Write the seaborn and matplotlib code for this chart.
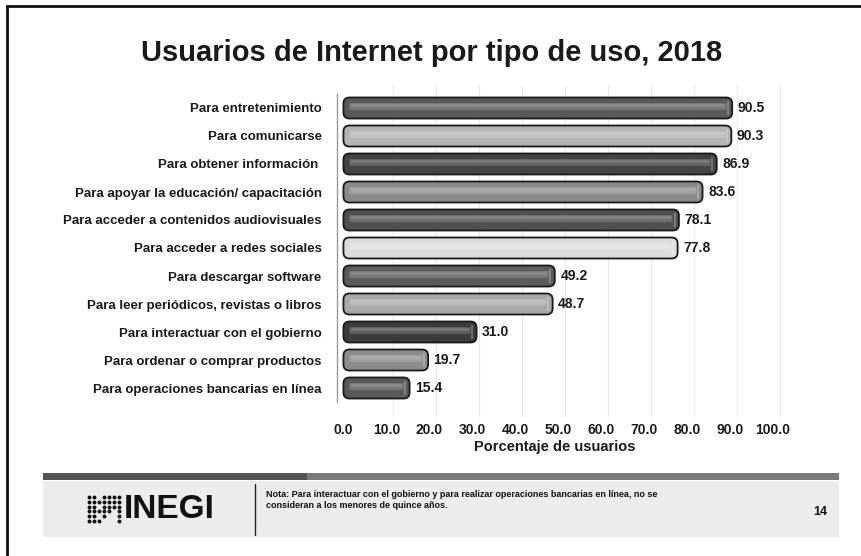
import numpy as np
import pandas as pd
import matplotlib
import matplotlib.pyplot as plt
import seaborn as sns
from matplotlib.patches import FancyBboxPatch, Rectangle
from matplotlib.lines import Line2D
from matplotlib.transforms import ScaledTranslation

usos = [
    "Para entretenimiento",
    "Para comunicarse",
    "Para obtener información ",
    "Para apoyar la educación/ capacitación",
    "Para acceder a contenidos audiovisuales",
    "Para acceder a redes sociales",
    "Para descargar software",
    "Para leer periódicos, revistas o libros",
    "Para interactuar con el gobierno",
    "Para ordenar o comprar productos",
    "Para operaciones bancarias en línea",
]
porcentajes = [90.5, 90.3, 86.9, 83.6, 78.1, 77.8, 49.2, 48.7, 31.0, 19.7, 15.4]
tonos = ["#5a5a5a", "#b4b4b4", "#444444", "#8a8a8a", "#505050", "#dcdcdc",
         "#5c5c5c", "#a8a8a8", "#3c3c3c", "#8c8c8c", "#5a5a5a"]
ticks_x = [0, 10, 20, 30, 40, 50, 60, 70, 80, 90, 100]

sns.set_theme(style="white")
plt.rcParams["font.family"] = ["Liberation Sans", "DejaVu Sans"]

df = pd.DataFrame({"uso": usos, "porcentaje": porcentajes})

fig = plt.figure(figsize=(8.61, 5.56), dpi=100)
ax = fig.add_axes([337 / 861, 1 - 402 / 556, 436 / 861, 308 / 556])

sns.barplot(data=df, x="porcentaje", y="uso", hue="uso", palette=tonos,
            legend=False, orient="h", width=0.75, edgecolor="#1a1a1a",
            linewidth=1.2, ax=ax)

for c in ax.containers:
    ax.bar_label(c, fmt="%.1f", padding=4, fontsize=10, fontweight="bold",
                 color="#1a1a1a")

# barras con extremos redondeados (aspecto cilindrico)
for p in list(ax.patches):
    x, y, w, h = p.get_x(), p.get_y(), p.get_width(), p.get_height()
    fc = p.get_facecolor()
    p.remove()
    ax.add_patch(FancyBboxPatch((x, y), w, h,
                                boxstyle="round,pad=0,rounding_size=1.4",
                                mutation_aspect=0.153, facecolor=fc,
                                edgecolor="#1a1a1a", linewidth=1.3, zorder=3))

pos = np.arange(len(porcentajes))
vals = np.array(porcentajes)
ax.hlines(pos - 0.08, 1.2, vals - 1.5, color="white", alpha=0.18, lw=5, zorder=4)
ax.hlines(pos - 0.12, 1.5, vals - 1.8, color="white", alpha=0.15, lw=2, zorder=4)
ax.vlines(vals - 1.0, pos - 0.25, pos + 0.25, color="white", alpha=0.3, lw=1.2, zorder=4)

# rejilla tenue desplazada (perspectiva)
grid_tr = ax.get_xaxis_transform() + ScaledTranslation(7 / 100, 0, fig.dpi_scale_trans)
ax.vlines(ticks_x[1:], -0.05, 1.03, transform=grid_tr, color="#e8e8e8", lw=0.8,
          zorder=0, clip_on=False)

ax.set_xlim(-1.5, 100)
ax.set_ylim(10.5, -0.5)
ax.set_xticks(ticks_x)
ax.set_xticklabels([f"{t:.1f}" for t in ticks_x], fontsize=10, fontweight="bold",
                   color="#1a1a1a")
for lab in ax.get_xticklabels():
    lab.set_transform(lab.get_transform() + ScaledTranslation(-7 / 100, 0, fig.dpi_scale_trans))
ax.tick_params(axis="x", length=0, pad=15)
ax.tick_params(axis="y", length=0, pad=11, labelsize=9.5, labelcolor="#1a1a1a")
for lab in ax.get_yticklabels():
    lab.set_fontweight("bold")
ax.set_xlabel("Porcentaje de usuarios", fontsize=10.5, fontweight="bold",
              color="#1a1a1a", labelpad=2)
ax.set_ylabel("")
for s in ["top", "right", "bottom"]:
    ax.spines[s].set_visible(False)
ax.spines["left"].set_color("#999999")
ax.spines["left"].set_linewidth(1)
ax.set_facecolor("none")

fig.text(432 / 861, 1 - 61 / 556, "Usuarios de Internet por tipo de uso, 2018",
         ha="center", va="baseline", fontsize=21, fontweight="bold", color="#1a1a1a")

# marco de la lamina
fig.add_artist(Line2D([7 / 861, 1], [1 - 6 / 556, 1 - 6 / 556], color="#111", lw=2))
fig.add_artist(Line2D([7 / 861, 7 / 861], [0, 1 - 6 / 556], color="#111", lw=2))

# pie de pagina
fig.add_artist(Rectangle((43 / 861, 1 - 480 / 556), (307 - 43) / 861, 7 / 556,
                         transform=fig.transFigure, color="#555555", lw=0))
fig.add_artist(Rectangle((307 / 861, 1 - 480 / 556), (839 - 307) / 861, 7 / 556,
                         transform=fig.transFigure, color="#7a7a7a", lw=0))
fig.add_artist(Rectangle((43 / 861, 1 - 537 / 556), (839 - 43) / 861, 56 / 556,
                         transform=fig.transFigure, color="#ececec", lw=0))
fig.add_artist(Line2D([255 / 861] * 2, [1 - 484 / 556, 1 - 535 / 556], color="#222", lw=1))

logo = fig.add_axes([86 / 861, 1 - 524 / 556, 36 / 861, 30 / 556])
logo.set_zorder(5)
cols = [[0, 1, 2, 3, 4, 5], [0, 1, 2, 3, 4, 5], [0, 2, 4], [1, 2, 3, 4, 5],
        [2, 3, 4, 5], [3, 4, 5], [0, 1, 2, 3, 4, 5]]
for i, col in enumerate(cols):
    logo.scatter([i] * len(col), col, s=8, color="#111", lw=0)
logo.set_xlim(-0.6, 6.6)
logo.set_ylim(-0.6, 5.6)
logo.axis("off")

fig.text(124 / 861, 1 - 509 / 556, "INEGI", ha="left", va="center", fontsize=24,
         fontweight="bold", color="#111")
fig.text(266 / 861, 1 - 500 / 556,
         "Nota: Para interactuar con el gobierno y para realizar operaciones bancarias en línea, no se\n"
         "consideran a los menores de quince años.",
         ha="left", va="center", fontsize=6.5, fontweight="bold", color="#111",
         linespacing=1.3)
fig.text(820 / 861, 1 - 512 / 556, "14", ha="center", va="center", fontsize=9,
         fontweight="bold", color="#111")

fig.savefig("out.png", dpi=100, facecolor="white")
